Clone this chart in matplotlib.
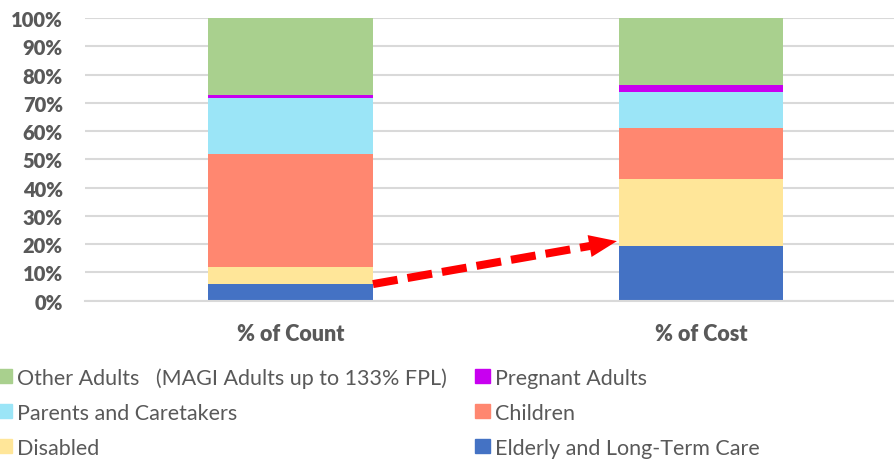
import matplotlib.pyplot as plt
from matplotlib.patches import Patch

plt.rcParams['font.family'] = ['Lato', 'DejaVu Sans']

bars = ['% of Count', '% of Cost']
groups = ['Elderly and Long-Term Care', 'Disabled', 'Children',
          'Parents and Caretakers', 'Pregnant Adults',
          'Other Adults   (MAGI Adults up to 133% FPL)']
elderly = [5.8, 19.2]
disabled = [6.2, 23.8]
children = [39.8, 18.1]
parents = [20.0, 12.8]
pregnant = [1.1, 2.6]
other = [27.1, 23.5]
colors = ['#4472C4', '#FFE699', '#FF8770', '#9BE5F7', '#C800F0', '#A9D08E']

grey = '#595959'

fig = plt.figure(figsize=(8.95, 4.6), dpi=100)
ax = fig.add_axes([0.095, 0.344, 0.905, 0.6145])

x = [0, 1]
bottom = [0, 0]
handles = {}
for name, vals, c in zip(groups, [elderly, disabled, children, parents, pregnant, other], colors):
    ax.bar(x, vals, 0.4, bottom=bottom, color=c, zorder=2)
    bottom = [b + v for b, v in zip(bottom, vals)]
    handles[name] = Patch(color=c)

ax.set_ylim(0, 100)
ax.set_xlim(-0.5, 1.472)
ax.set_yticks(range(0, 101, 10))
ax.set_yticklabels([f'{t}%' for t in range(0, 101, 10)])
ax.set_xticks(x)
ax.set_xticklabels(bars)
for lab in ax.get_yticklabels():
    lab.set_fontweight('heavy')
    lab.set_color(grey)
    lab.set_fontsize(14.5)
for lab in ax.get_xticklabels():
    lab.set_fontweight('heavy')
    lab.set_color(grey)
    lab.set_fontsize(15.5)
ax.tick_params(length=0)
ax.tick_params(axis='y', pad=16)
ax.tick_params(axis='x', pad=16)
ax.grid(axis='y', color='#D9D9D9', lw=1.5, zorder=0)
for s in ['top', 'right', 'left']:
    ax.spines[s].set_visible(False)
ax.spines['bottom'].set_color('#D9D9D9')
ax.spines['bottom'].set_linewidth(1.5)

# red dashed arrow from count to cost
arrow_start = (0.201, 5.9)
arrow_base = (0.730, 19.4)
arrow_tip = (0.795, 21.1)
ax.plot([arrow_start[0], arrow_base[0]], [arrow_start[1], arrow_base[1]],
        color='red', lw=5.8, ls=(0, (3.1, 1.25)), solid_capstyle='butt',
        dash_capstyle='butt', zorder=3, clip_on=False)
ax.annotate('', xy=arrow_tip, xytext=arrow_base,
            arrowprops=dict(arrowstyle='-|>,head_length=1.0,head_width=0.4',
                            mutation_scale=20, color='red', lw=0,
                            shrinkA=0, shrinkB=0), zorder=3)

order = ['Other Adults   (MAGI Adults up to 133% FPL)', 'Parents and Caretakers',
         'Disabled', 'Pregnant Adults', 'Children', 'Elderly and Long-Term Care']
leg = fig.legend([handles[k] for k in order], order, ncol=2, loc='upper left',
                 bbox_to_anchor=(-0.0022, 0.2000), frameon=False,
                 borderpad=0, borderaxespad=0,
                 fontsize=15.5, handlelength=0.67, handleheight=0.63,
                 handletextpad=0.23, columnspacing=1.3, labelspacing=0.7)
for t in leg.get_texts():
    t.set_color(grey)

fig.savefig('out.png', dpi=100)
